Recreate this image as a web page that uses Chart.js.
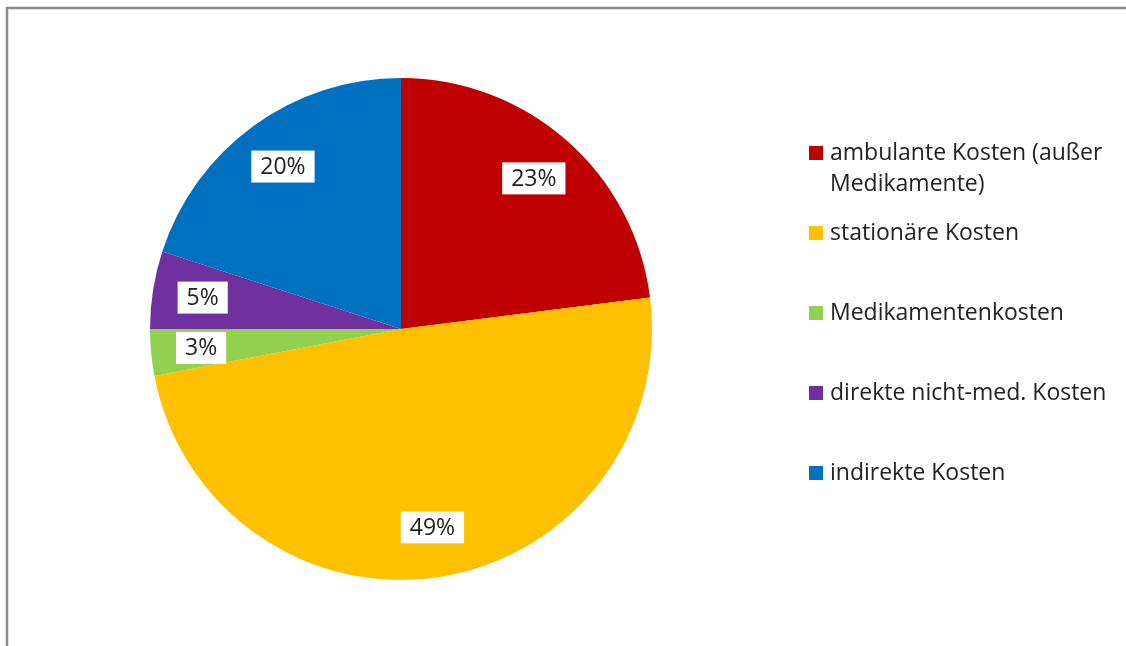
<!DOCTYPE html>
<html>
<head>
<meta charset="utf-8">
<script src="https://cdn.jsdelivr.net/npm/chart.js@4"></script>
<style>
  html, body { margin: 0; padding: 0; background: #fff; }
  #wrap { width: 1126px; height: 646px; position: relative; }
</style>
</head>
<body>
<div id="wrap"><canvas id="graph" width="1126" height="646"></canvas></div>
<script>
// cost categories and their shares in percent
const categories = [
    ["ambulante Kosten (außer", "Medikamente)"],
    ["stationäre Kosten"],
    ["Medikamentenkosten"],
    ["direkte nicht-med. Kosten"],
    ["indirekte Kosten"]
];
const shares = [23, 49, 3, 5, 20];
const colors = ['#C00000', '#FFC000', '#92D050', '#7030A0', '#0070C0'];

const labelFont = '23px "Open Sans", "DejaVu Sans", sans-serif';

// gray frame along the top and left edge
const framePlugin = {
    id: 'frame',
    beforeDraw(chart) {
        const ctx = chart.ctx;
        ctx.save();
        ctx.fillStyle = '#fff';
        ctx.fillRect(0, 0, chart.width, chart.height);
        ctx.strokeStyle = '#8a8a8a';
        ctx.lineWidth = 2.5;
        ctx.beginPath();
        ctx.moveTo(7, chart.height);
        ctx.lineTo(7, 8);
        ctx.lineTo(chart.width, 8);
        ctx.stroke();
        ctx.restore();
    }
};

// percentage boxes inside the slices
const valueLabels = {
    id: 'valueLabels',
    afterDatasetsDraw(chart) {
        const ctx = chart.ctx;
        const meta = chart.getDatasetMeta(0);
        ctx.save();
        ctx.font = labelFont;
        ctx.textAlign = 'center';
        ctx.textBaseline = 'middle';
        meta.data.forEach((arc, i) => {
            const p = arc.getProps(['x', 'y', 'startAngle', 'endAngle', 'outerRadius'], true);
            const mid = (p.startAngle + p.endAngle) / 2;
            const r = p.outerRadius * 0.8;
            const x = p.x + Math.cos(mid) * r;
            const y = p.y + Math.sin(mid) * r;
            const text = shares[i] + '%';
            const w = ctx.measureText(text).width + 18;
            const h = 32;
            ctx.fillStyle = '#fff';
            ctx.fillRect(x - w / 2, y - h / 2, w, h);
            ctx.fillStyle = '#222';
            ctx.fillText(text, x, y + 1);
        });
        ctx.restore();
    }
};

// legend on the right with wrapped first entry
const sideLegend = {
    id: 'sideLegend',
    afterDraw(chart) {
        const ctx = chart.ctx;
        ctx.save();
        ctx.font = '23px "Open Sans", "DejaVu Sans", sans-serif';
        ctx.textBaseline = 'middle';
        ctx.textAlign = 'left';
        categories.forEach((lines, i) => {
            const y = 153 + i * 80;
            ctx.fillStyle = colors[i];
            ctx.fillRect(809, y - 7, 14, 14);
            ctx.fillStyle = '#222';
            lines.forEach((line, j) => {
                ctx.fillText(line, 830, y + j * 31);
            });
        });
        ctx.restore();
    }
};

new Chart(document.getElementById('graph'), {
    type: 'pie',
    data: {
        labels: categories.map(c => c.join(' ')),
        datasets: [{
            data: shares,
            backgroundColor: colors,
            borderWidth: 0
        }]
    },
    options: {
        responsive: false,
        animation: false,
        layout: {
            padding: { left: 150, right: 474, top: 78, bottom: 66 }
        },
        plugins: {
            legend: { display: false },
            tooltip: { enabled: false }
        }
    },
    plugins: [framePlugin, valueLabels, sideLegend]
});
</script>
</body>
</html>
